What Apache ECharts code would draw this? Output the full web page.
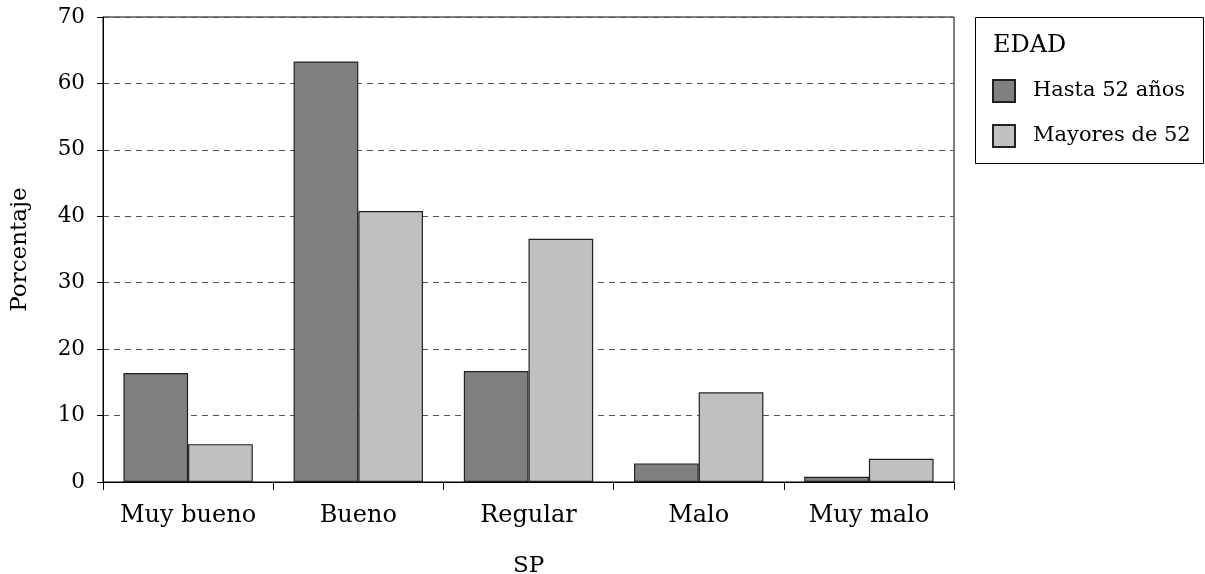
<!DOCTYPE html>
<html><head><meta charset="utf-8">
<script src="https://cdn.jsdelivr.net/npm/echarts@6/dist/echarts.min.js"></script>
<style>html,body{margin:0;padding:0;background:#fff}#c{width:1205px;height:574px}</style>
</head><body><div id="c"></div>
<script>
const categories = ['Muy bueno', 'Bueno', 'Regular', 'Malo', 'Muy malo'];
const hasta52 = [16.4, 63.3, 16.7, 2.8, 0.8];
const mayores52 = [5.7, 40.8, 36.6, 13.5, 3.5];
const seriesNames = ['Hasta 52 años', 'Mayores de 52'];
const FONT = 'DejaVu Serif';
const chart = echarts.init(document.getElementById('c'), null, {renderer: 'canvas'});
chart.setOption({
  animation: false,
  backgroundColor: '#fff',
  textStyle: {fontFamily: FONT},
  grid: {left: 103, right: 251, top: 17, bottom: 92, show: true, borderColor: '#000', borderWidth: 1,
         backgroundColor: 'transparent', containLabel: false, outerBoundsMode: 'none'},
  legend: {
    orient: 'vertical', left: 987, top: 74, itemWidth: 22, itemHeight: 22, itemGap: 21,
    icon: 'rect',
    textStyle: {fontFamily: FONT, fontSize: 21, color: '#000', padding: [0, 0, 0, 13]},
    data: seriesNames
  },
  graphic: [
    {type: 'rect', shape: {x: 975.5, y: 17.5, width: 228, height: 146}, style: {fill: 'none', stroke: '#000', lineWidth: 1}, z: 0},
    {type: 'text', left: 993, top: 34, style: {text: 'EDAD', font: '24px "DejaVu Serif"', fill: '#000'}}
  ],
  xAxis: {
    type: 'category', data: categories,
    name: 'SP', nameLocation: 'middle', nameGap: 73,
    nameTextStyle: {fontFamily: FONT, fontSize: 23, color: '#000'},
    axisLine: {lineStyle: {color: '#000', width: 1}},
    axisTick: {show: true, length: 8, interval: 0, lineStyle: {color: '#000'}},
    axisLabel: {fontFamily: FONT, fontSize: 24, color: '#000', margin: 22, interval: 0, hideOverlap: false}
  },
  yAxis: {
    type: 'value', min: 0, max: 70, interval: 10,
    name: 'Porcentaje', nameLocation: 'middle', nameGap: 71,
    nameTextStyle: {fontFamily: FONT, fontSize: 23, color: '#000'},
    axisLine: {show: true, lineStyle: {color: '#000', width: 1}},
    axisTick: {show: true, length: 6, lineStyle: {color: '#000'}},
    axisLabel: {fontFamily: FONT, fontSize: 21.5, color: '#000', margin: 18},
    splitLine: {show: true, lineStyle: {color: '#555', type: [6, 5], width: 1}}
  },
  series: [
    {name: seriesNames[0], type: 'bar', data: hasta52, barGap: '0%', barCategoryGap: '24%',
     itemStyle: {color: '#808080', borderColor: '#222', borderWidth: 1.2}},
    {name: seriesNames[1], type: 'bar', data: mayores52,
     itemStyle: {color: '#c0c0c0', borderColor: '#222', borderWidth: 1.2}}
  ]
});
</script></body></html>
